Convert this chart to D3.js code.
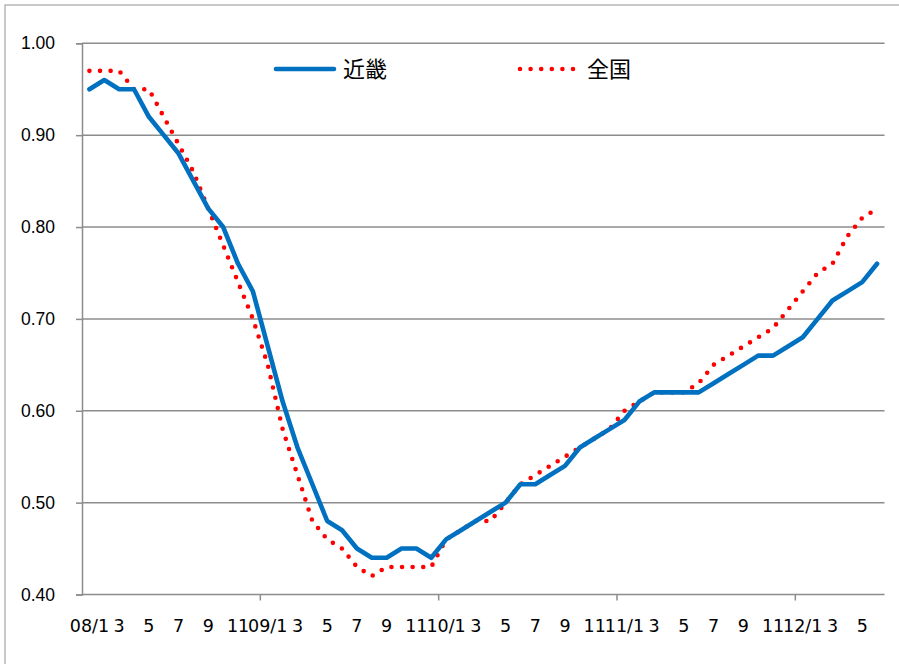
<!DOCTYPE html>
<html>
<head>
<meta charset="utf-8">
<script src="https://cdn.jsdelivr.net/npm/d3@7"></script>
<style>
  body { margin: 0; background: #fff; }
  svg { display: block; font-family: "DejaVu Sans", sans-serif; }
</style>
</head>
<body>
<svg id="chart"></svg>
<script>
// months 08/1 .. 12/6
const months = [];
["08", "09", "10", "11", "12"].forEach(y => {
    for (let m = 1; m <= 12; m++) {
        if (y === "12" && m > 6) break;
        months.push(`${y}/${m}`);
    }
});

const kinki = [
    0.95, 0.96, 0.95, 0.95, 0.92, 0.90, 0.88, 0.85, 0.82, 0.80, 0.76, 0.73,
    0.67, 0.61, 0.56, 0.52, 0.48, 0.47, 0.45, 0.44, 0.44, 0.45, 0.45, 0.44,
    0.46, 0.47, 0.48, 0.49, 0.50, 0.52, 0.52, 0.53, 0.54, 0.56, 0.57, 0.58,
    0.59, 0.61, 0.62, 0.62, 0.62, 0.62, 0.63, 0.64, 0.65, 0.66, 0.66, 0.67,
    0.68, 0.70, 0.72, 0.73, 0.74, 0.76
];

const zenkoku = [
    0.97, 0.97, 0.97, 0.95, 0.95, 0.92, 0.89, 0.86, 0.82, 0.78, 0.74, 0.70,
    0.65, 0.58, 0.53, 0.48, 0.46, 0.45, 0.43, 0.42, 0.43, 0.43, 0.43, 0.43,
    0.46, 0.47, 0.48, 0.48, 0.50, 0.52, 0.53, 0.54, 0.55, 0.56, 0.57, 0.58,
    0.60, 0.61, 0.62, 0.62, 0.62, 0.63, 0.65, 0.66, 0.67, 0.68, 0.69, 0.71,
    0.73, 0.75, 0.76, 0.79, 0.81, 0.82
];

const yTicks = [0.40, 0.50, 0.60, 0.70, 0.80, 0.90, 1.00];

const series = [
    { name: "近畿", values: kinki, color: "#0070C0", dash: null },
    { name: "全国", values: zenkoku, color: "#FF0000", dash: "0 10.6" }
];

const W = 899, H = 664;
const margin = { top: 43.3, right: 14.5, bottom: 69.5, left: 82 };
const width = W - margin.left - margin.right,
      height = H - margin.top - margin.bottom;

const svg = d3.select("#chart").attr("width", W).attr("height", H);

// chart border (only top/left visible in the original)
svg.append("rect")
    .attr("x", 5).attr("y", 5)
    .attr("width", W + 10).attr("height", H + 10)
    .attr("fill", "none")
    .attr("stroke", "#a6a6a6")
    .attr("stroke-width", 1.2);

const g = svg.append("g").attr("transform", `translate(${margin.left},${margin.top})`);

const x = d3.scaleBand().domain(months).range([0, width]).padding(0);
const y = d3.scaleLinear().domain([0.4, 1.0]).range([height, 0]);
const cx = d => x(d) + x.bandwidth() / 2;

// gridlines
g.selectAll(".grid")
    .data(yTicks.filter(t => t > 0.4))
    .enter().append("line")
    .attr("x1", 0).attr("x2", width)
    .attr("y1", d => y(d)).attr("y2", d => y(d))
    .attr("stroke", "#8c8c8c")
    .attr("stroke-width", 1.5);

// y axis
const yAxis = g.append("g")
    .call(d3.axisLeft(y).tickValues(yTicks).tickFormat(d3.format(".2f")).tickSize(6).tickPadding(21));
yAxis.select(".domain").attr("stroke", "#8c8c8c").attr("stroke-width", 1.5);
yAxis.selectAll(".tick line").attr("stroke", "#8c8c8c").attr("stroke-width", 1.5);
yAxis.selectAll("text").style("font-size", "17.5px").attr("fill", "#000");

// x axis
const xAxis = g.append("g").attr("transform", `translate(0,${height})`);
xAxis.append("line")
    .attr("x1", 0).attr("x2", width)
    .attr("stroke", "#8c8c8c").attr("stroke-width", 1.5);
xAxis.selectAll(".ytick")
    .data(months.filter(m => m.endsWith("/1") && m !== "08/1"))
    .enter().append("line")
    .attr("x1", d => x(d)).attr("x2", d => x(d))
    .attr("y1", 0).attr("y2", 6)
    .attr("stroke", "#8c8c8c").attr("stroke-width", 1.5);
xAxis.selectAll(".xlab")
    .data(months.filter((m, i) => i % 2 === 0))
    .enter().append("text")
    .attr("x", d => cx(d))
    .attr("y", 37)
    .attr("text-anchor", "middle")
    .style("font-size", "17.5px")
    .text(d => d.endsWith("/1") ? d : d.split("/")[1]);

// lines
const line = d3.line().x((v, i) => cx(months[i])).y(v => y(v));

series.slice().reverse().forEach(s => {
    g.append("path")
        .datum(s.values)
        .attr("fill", "none")
        .attr("stroke", s.color)
        .attr("stroke-width", 4.6)
        .attr("stroke-linejoin", "round")
        .attr("stroke-linecap", "round")
        .attr("stroke-dasharray", s.dash)
        .attr("d", line);
});

// legend
const legend = svg.append("g");
const legendPos = [{ x: 276, y: 69 }, { x: 520, y: 69 }];
series.forEach((s, i) => {
    const p = legendPos[i];
    legend.append("line")
        .attr("x1", p.x).attr("x2", p.x + 58)
        .attr("y1", p.y).attr("y2", p.y)
        .attr("stroke", s.color)
        .attr("stroke-width", 4.6)
        .attr("stroke-linecap", "round")
        .attr("stroke-dasharray", s.dash);
    legend.append("text")
        .attr("x", p.x + 67)
        .attr("y", p.y + 8)
        .style("font-family", "'Noto Sans CJK JP', sans-serif")
        .style("font-size", "22px")
        .text(s.name);
});
</script>
</body>
</html>
